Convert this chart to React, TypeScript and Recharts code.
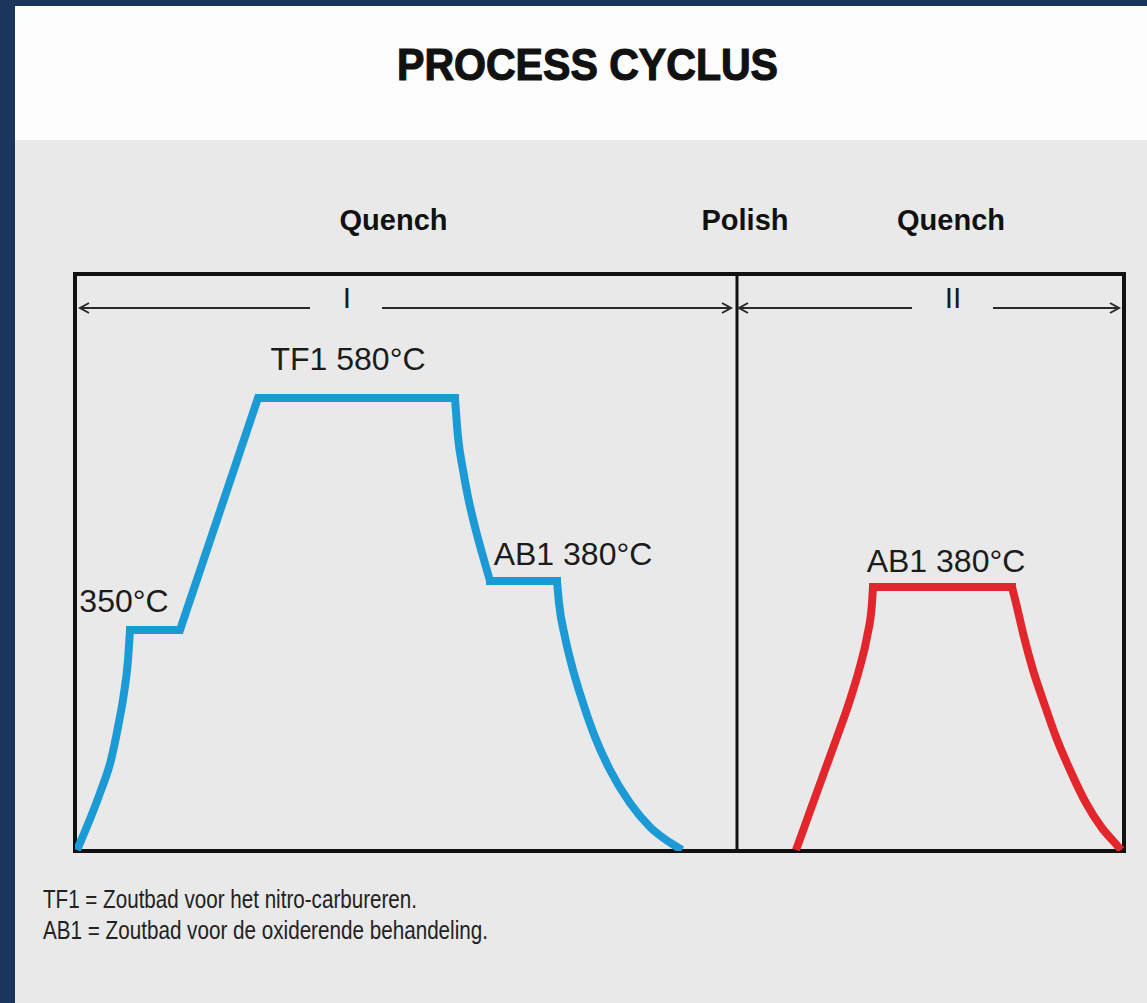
import React from 'react';
import { LineChart, Line, XAxis, YAxis, ReferenceLine, ReferenceArea, ReferenceDot } from 'recharts';

// time runs left to right across both stages, level is the bath temperature height in the sketch
const blueTime = [2, 25, 36, 43, 49, 53, 55, 105, 183, 380, 383, 388, 393, 400, 407, 415, 482, 484, 490, 498, 508, 520, 535, 555, 575, 602, 607];
const blueLevel = [1, 58, 91, 124, 158, 191, 221, 221, 453, 453, 414, 381, 354, 324, 298, 270, 270, 248, 214, 181, 148, 114, 81, 48, 24, 4, 1];
// [first index, last index, curved?] : heating / cooling stretches are curved, holds and the ramp are straight
const blueParts: [number, number, boolean][] = [[0, 6, true], [6, 9, false], [9, 15, true], [15, 16, false], [16, 26, true]];

const redTime = [721, 738, 750, 762, 774, 784, 792, 797, 798, 937, 941, 949, 958, 969, 981, 995, 1011, 1027, 1040, 1046];
const redLevel = [1, 48, 81, 114, 148, 181, 214, 248, 264, 264, 248, 214, 181, 148, 114, 81, 48, 23, 8, 1];
const redParts: [number, number, boolean][] = [[0, 8, true], [8, 9, false], [9, 19, true]];

const plateauText = ['TF1 580°C', '350°C', 'AB1 380°C', 'AB1 380°C'];
const plateauTime = [273, 49, 498, 871];
const plateauLevel = [481, 239, 286, 279];

const phaseText = ['I', 'II'];
const phaseTime = [272, 878];
const stageDivider = 662;

const arrowFrom = [235, 307, 837, 918];
const arrowTo = [5, 656, 664, 1044];
const arrowLevel = 543;

const stageText = ['Quench', 'Polish', 'Quench'];
const footnotes = ['TF1 = Zoutbad voor het nitro-carbureren.', 'AB1 = Zoutbad voor de oxiderende behandeling.'];

const toRows = (time: number[], level: number[]) => time.map((t, i) => ({ x: t, y: level[i] }));
const blueData = toRows(blueTime, blueLevel);
const redData = toRows(redTime, redLevel);

const FONT = '"Liberation Sans", Arial, Helvetica, sans-serif';
const INK = '#1b1b1b';
const BLUE = '#1c9ad6';
const RED = '#e2262b';

const arrowShape = (props: any) => {
  const { x1, y1, x2, y2 } = props;
  const dir = x2 > x1 ? 1 : -1;
  return (
    <g>
      <line x1={x1} y1={y1} x2={x2} y2={y2} stroke="#2a2a2a" strokeWidth={2} />
      <polyline
        points={`${x2 - dir * 9},${y2 - 5} ${x2},${y2} ${x2 - dir * 9},${y2 + 5}`}
        fill="none"
        stroke="#2a2a2a"
        strokeWidth={2}
      />
    </g>
  );
};

const textLabel = (text: string, size: number) => (props: any) => {
  const vb = props.viewBox || {};
  const cx = (vb.x ?? 0) + (vb.width ?? 0) / 2;
  const cy = (vb.y ?? 0) + (vb.height ?? 0) / 2;
  return (
    <text x={cx} y={cy} textAnchor="middle" fontFamily={FONT} fontSize={size} fill={INK}>
      {text}
    </text>
  );
};

const renderParts = (name: string, rows: { x: number; y: number }[], parts: [number, number, boolean][], color: string) =>
  parts.map(([a, b, curved]) => (
    <Line
      key={`${name}-${a}`}
      data={rows.slice(a, b + 1)}
      dataKey="y"
      type={curved ? 'monotoneX' : 'linear'}
      stroke={color}
      strokeWidth={8}
      strokeLinecap={curved ? 'butt' : 'square'}
      dot={false}
      activeDot={false}
      isAnimationActive={false}
    />
  ));

const App: React.FC = () => {
  return (
    <div style={{ position: 'absolute', left: 0, top: 0, width: 1147, height: 1003, background: '#1a365a', overflow: 'hidden' }}>
      <div style={{ position: 'absolute', left: 15, top: 6, width: 1132, height: 134, background: '#fdfdfd' }} />
      <div style={{ position: 'absolute', left: 15, top: 140, width: 1132, height: 863, background: '#e9e9e9' }} />

      <div style={{ position: 'absolute', left: 0, top: 0 }}>
        <LineChart width={1147} height={1003} margin={{ top: 274, right: 23, bottom: 152, left: 75 }}>
          <XAxis dataKey="x" type="number" domain={[0, 1049]} hide allowDataOverflow />
          <YAxis type="number" domain={[0, 577]} hide allowDataOverflow />
          <ReferenceArea x1={0} x2={1049} y1={0} y2={577} fill="none" stroke="#111" strokeWidth={4} fillOpacity={0} />
          <ReferenceLine x={stageDivider} stroke="#111" strokeWidth={3} />
          {arrowFrom.map((from, i) => (
            <ReferenceLine
              key={`arrow-${i}`}
              segment={[{ x: from, y: arrowLevel }, { x: arrowTo[i], y: arrowLevel }]}
              shape={arrowShape}
            />
          ))}
          {phaseText.map((t, i) => (
            <ReferenceDot key={`phase-${i}`} x={phaseTime[i]} y={arrowLevel} r={0} fill="none" stroke="none" label={textLabel(t, 30)} />
          ))}
          {renderParts('blue', blueData, blueParts, BLUE)}
          {renderParts('red', redData, redParts, RED)}
          {plateauText.map((t, i) => (
            <ReferenceDot key={`plateau-${i}`} x={plateauTime[i]} y={plateauLevel[i]} r={0} fill="none" stroke="none" label={textLabel(t, 32)} />
          ))}
        </LineChart>
      </div>

      <svg width={1147} height={1003} style={{ position: 'absolute', left: 0, top: 0, pointerEvents: 'none' }}>
        <text x={587.5} y={80} textAnchor="middle" fontFamily={FONT} fontWeight="bold" fontSize={44} fill="#111" stroke="#111" strokeWidth={1.2} textLength={381} lengthAdjust="spacingAndGlyphs">
          PROCESS CYCLUS
        </text>
        {stageText.map((t, i) => (
          <text key={`stage-${i}`} x={[393.5, 745, 951][i]} y={230} textAnchor="middle" fontFamily={FONT} fontWeight="bold" fontSize={29} fill="#111">
            {t}
          </text>
        ))}
        {footnotes.map((t, i) => (
          <text key={`note-${i}`} x={43} y={908 + i * 31} fontFamily={FONT} fontSize={25} fill="#222" textLength={[374, 445][i]} lengthAdjust="spacingAndGlyphs">
            {t}
          </text>
        ))}
      </svg>
    </div>
  );
};

export default App;
